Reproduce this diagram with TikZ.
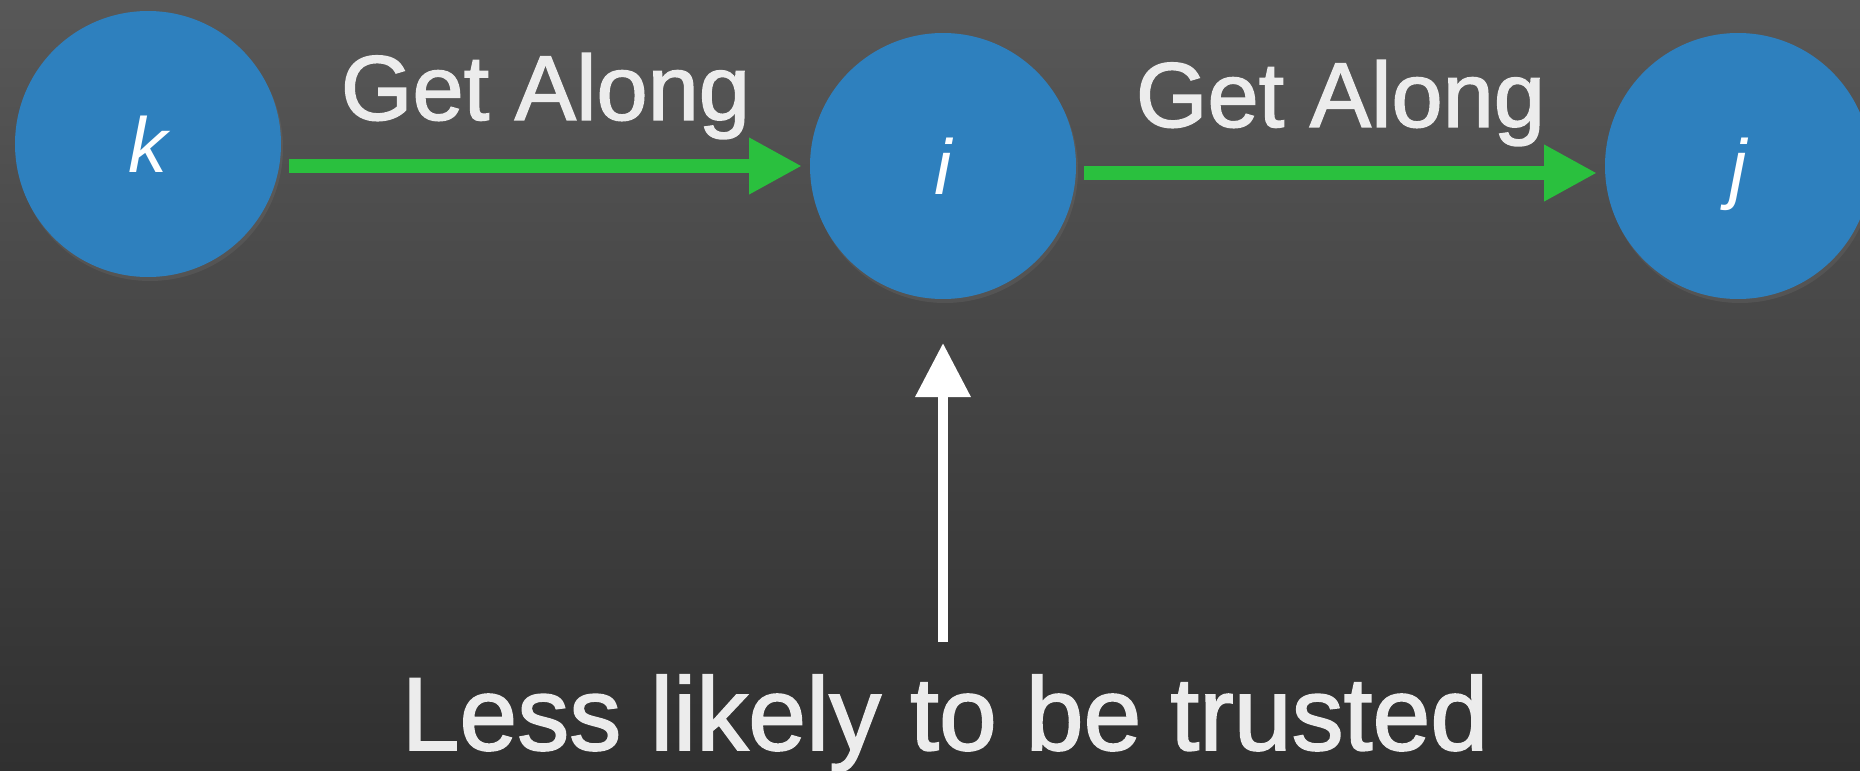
\documentclass[tikz,border=0pt]{standalone}
\usepackage{fontspec}
\setmainfont{Liberation Sans}
\newfontfamily\heavysans[FakeBold=1.6]{Liberation Sans}
\usepackage{tikz}
\usetikzlibrary{arrows.meta,positioning,shadows}
\definecolor{tkBlue}{RGB}{46,128,190}
\definecolor{tkGreen}{RGB}{42,192,62}
\definecolor{tkText}{RGB}{236,236,236}
\definecolor{tkTop}{RGB}{88,88,88}
\definecolor{tkBottom}{RGB}{48,48,48}

\begin{document}
\begin{tikzpicture}[
  x=0.5pt, y=-0.5pt,
  agent/.style={circle, fill=tkBlue, minimum size=133pt, inner sep=0pt, outer sep=0pt, text=white, text depth=0pt,
    font=\fontsize{39}{39}\selectfont\itshape, drop shadow={shadow xshift=1pt, shadow yshift=-2pt, opacity=0.2}},
  lbl/.style={text=tkText, inner sep=0pt, font=\heavysans\fontsize{46}{46}\selectfont},
  arr/.style={-{Triangle[length=26.5pt, width=26.5pt]}, line width=7pt, draw=tkGreen, shorten <=4pt, shorten >=4pt},
  uparr/.style={-{Triangle[length=27pt, width=26.5pt]}, line width=5pt, draw=white}
]
\useasboundingbox (0,0) rectangle (1860,771);
\clip (0,0) rectangle (1860,771);
\shade[top color=tkTop, bottom color=tkBottom] (0,0) rectangle (1860,771);

\node[agent] (k) at (148,144) {k};
\node[agent, right=264.5pt of k, yshift=-11pt] (i) {i};
\node[agent, right=264.5pt of i] (j) {j};
\node[lbl, font=\heavysans\fontsize{52}{52}\selectfont, anchor=base] (trust) at (945,750) {Less likely to be trusted};

\draw[arr] (k.east |- i.west) -- node[lbl, above=10pt] {Get Along} (i.west);
\draw[arr] ([yshift=-3.5pt]i.east) -- node[lbl, above=10pt] {Get Along} ([yshift=-3.5pt]j.west);
\draw[uparr, shorten <=16pt, shorten >=22pt] (i |- trust.north) -- (i.south);
\end{tikzpicture}
\end{document}
